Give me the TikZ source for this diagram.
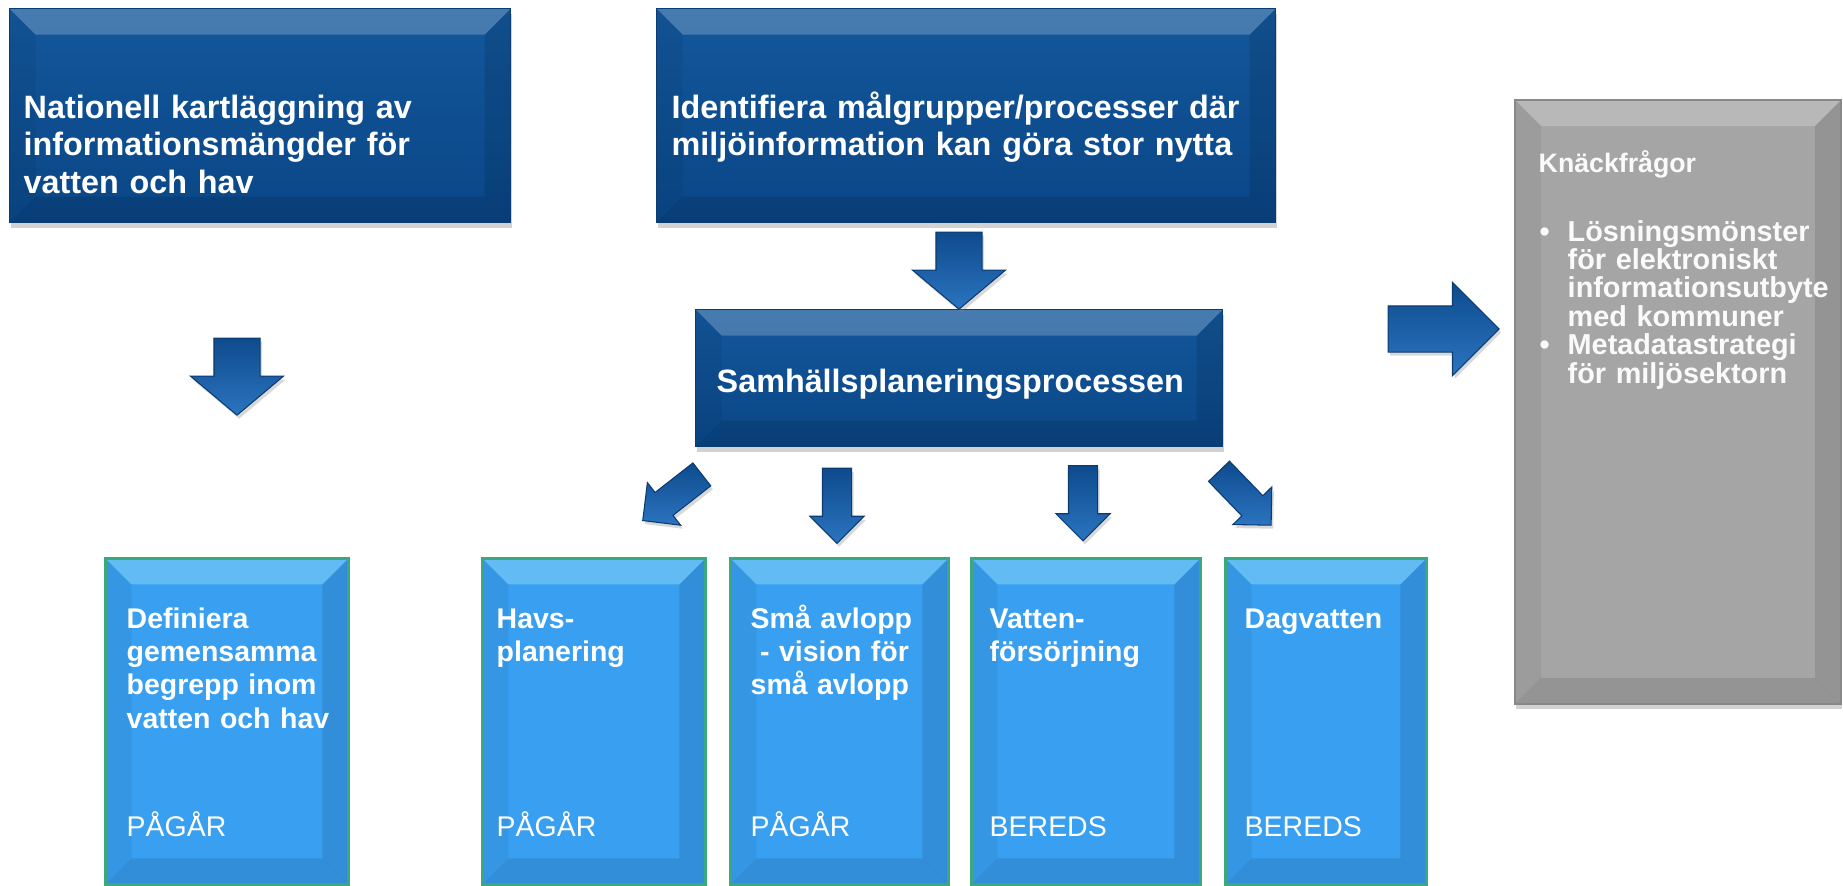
\documentclass[tikz,border=0pt]{standalone}
\usepackage{fontspec}
\setmainfont{Liberation Sans}
\usetikzlibrary{shapes.arrows,shadows}

\definecolor{darkface}{HTML}{0A4686}
\definecolor{darktop}{HTML}{13579B}
\definecolor{lightface}{HTML}{389FF1}
\definecolor{lightedge}{HTML}{3BA97C}
\definecolor{grayface}{HTML}{A5A5A5}
\definecolor{grayedge}{HTML}{888888}
\definecolor{arrowdark}{HTML}{0E4B8D}
\definecolor{arrowlight}{HTML}{2B74C0}

\newcommand\bev{0.26}
\newcommand\bul{\leavevmode\llap{\textbullet\hspace{.18cm}}}

\tikzset{
  bevel/.style={path picture={
      \coordinate (pnw) at (path picture bounding box.north west);
      \coordinate (pne) at (path picture bounding box.north east);
      \coordinate (psw) at (path picture bounding box.south west);
      \coordinate (pse) at (path picture bounding box.south east);
      \fill[#1] (pnw) -- (pne) -- ([shift={(-\bev,-\bev)}]pne) -- ([shift={(\bev,-\bev)}]pnw) -- cycle;
      \fill[black,opacity=.05] (pnw) -- ([shift={(\bev,-\bev)}]pnw) -- ([shift={(\bev,\bev)}]psw) -- (psw) -- cycle;
      \fill[black,opacity=.10] (pne) -- ([shift={(-\bev,-\bev)}]pne) -- ([shift={(-\bev,\bev)}]pse) -- (pse) -- cycle;
      \fill[black,opacity=.10] (psw) -- ([shift={(\bev,\bev)}]psw) -- ([shift={(-\bev,\bev)}]pse) -- (pse) -- cycle;
    }},
  boxshadow/.style={drop shadow={opacity=.35,shadow xshift=.3pt,shadow yshift=-1.5pt}},
  darkbox/.style={rectangle, anchor=north west, draw=darkface!85!black, line width=.4pt,
    top color=darktop, bottom color=darkface, bevel={white,opacity=.22}, boxshadow},
  lightbox/.style={rectangle, anchor=north west, draw=lightedge, line width=.8pt,
    fill=lightface, bevel={cyan!40!white,opacity=.45}, boxshadow},
  graybox/.style={rectangle, anchor=north west, draw=grayedge, line width=.6pt,
    fill=grayface, bevel={white,opacity=.22}, boxshadow},
  toptext/.style={anchor=base west, inner sep=0pt, text width=6cm, align=left, text=white,
    font=\fontsize{9.2}{10.8}\selectfont\bfseries},
  lowtext/.style={toptext, text width=2.3cm, font=\fontsize{8.1}{9.5}\selectfont\bfseries},
  statetext/.style={lowtext, font=\fontsize{8.1}{9.5}\selectfont},
  graytext/.style={toptext, text width=3cm, text=white!96!gray,
    font=\fontsize{8.2}{8.1}\selectfont\bfseries},
  bigarrow/.style={single arrow, draw=arrowdark!80!black, line width=.3pt,
    top color=arrowdark, bottom color=arrowlight, inner sep=0pt, inner ysep=.225cm,
    single arrow head extend=.235cm, single arrow tip angle=100, minimum height=.77cm,
    drop shadow={opacity=.3,shadow xshift=.6pt,shadow yshift=-1pt}},
  smallarrow/.style={bigarrow, inner ysep=.14cm, single arrow head extend=.125cm,
    single arrow tip angle=90, minimum height=.75cm},
}

\begin{document}
\begin{tikzpicture}
  \useasboundingbox[fill=white] (0,0) rectangle (18.43,8.85);

  % boxes
  \node[darkbox, minimum width=5.01cm, minimum height=2.14cm] (kart) at (0.09,8.77) {};
  \node[darkbox, minimum width=6.19cm, minimum height=2.14cm] (malgrupp) at (6.56,8.77) {};
  \node[darkbox, minimum width=5.27cm, minimum height=1.37cm] (plan) at (6.95,5.76) {};
  \node[lightbox, minimum width=2.43cm, minimum height=3.26cm] (begrepp) at (1.04,3.28) {};
  \node[lightbox, minimum width=2.23cm, minimum height=3.26cm] (havs) at (4.81,3.28) {};
  \node[lightbox, minimum width=2.18cm, minimum height=3.26cm] (avlopp) at (7.29,3.28) {};
  \node[lightbox, minimum width=2.29cm, minimum height=3.26cm] (vatten) at (9.70,3.28) {};
  \node[lightbox, minimum width=2.01cm, minimum height=3.26cm] (dag) at (12.24,3.28) {};
  \node[graybox, minimum width=3.26cm, minimum height=6.04cm] (knack) at (15.14,7.86) {};

  % texts
  \node[toptext] (kart text) at ([shift={(.14,-1.10)}]kart.north west)
    {Nationell kartläggning av\\informationsmängder för\\vatten och hav};
  \node[toptext] (malgrupp text) at ([shift={(.15,-1.10)}]malgrupp.north west)
    {Identifiera målgrupper/processer där\\miljöinformation kan göra stor nytta};
  \node[toptext] (plan text) at ([shift={(.21,-.835)}]plan.north west)
    {Samhällsplaneringsprocessen};

  \node[lowtext] (begrepp text) at ([shift={(.22,-.71)}]begrepp.north west)
    {Definiera\\gemensamma\\begrepp inom\\vatten och hav};
  \node[statetext] (begrepp state) at ([shift={(.22,-2.79)}]begrepp.north west) {PÅGÅR};
  \node[lowtext] (havs text) at ([shift={(.15,-.71)}]havs.north west)
    {Havs-\\planering};
  \node[statetext] (havs state) at ([shift={(.15,-2.79)}]havs.north west) {PÅGÅR};
  \node[lowtext] (avlopp text) at ([shift={(.21,-.71)}]avlopp.north west)
    {Små avlopp\\~- vision för\\små avlopp};
  \node[statetext] (avlopp state) at ([shift={(.21,-2.79)}]avlopp.north west) {PÅGÅR};
  \node[lowtext] (vatten text) at ([shift={(.19,-.71)}]vatten.north west)
    {Vatten-\\försörjning};
  \node[statetext] (vatten state) at ([shift={(.19,-2.79)}]vatten.north west) {BEREDS};
  \node[lowtext] (dag text) at ([shift={(.20,-.71)}]dag.north west)
    {Dagvatten};
  \node[statetext] (dag state) at ([shift={(.20,-2.79)}]dag.north west) {BEREDS};

  \node[graytext, font=\fontsize{7.6}{9}\selectfont\bfseries] (knack title)
    at ([shift={(.24,-.73)}]knack.north west) {Knäckfrågor};
  \node[graytext] (knack list) at ([shift={(.53,-1.42)}]knack.north west)
    {\bul Lösningsmönster\\
     för elektroniskt\\
     informationsutbyte\\
     med kommuner\\
     \bul Metadatastrategi\\
     för miljösektorn};

  % block arrows
  \node[bigarrow, rotate=-90] (down kart) at (2.37,5.18) {};
  \node[bigarrow, rotate=-90] (down malgrupp) at (9.59,6.24) {};
  \node[bigarrow, minimum height=1.11cm, single arrow tip angle=90] (to knack) at (14.32,5.56) {};
  \node[smallarrow, rotate=218] (to havs) at (6.78,3.92) {};
  \node[smallarrow, rotate=-90] (to avlopp) at (8.37,3.865) {};
  \node[smallarrow, rotate=-90] (to vatten) at (10.83,3.89) {};
  \node[smallarrow, rotate=-46] (to dag) at (12.40,3.92) {};
\end{tikzpicture}
\end{document}
